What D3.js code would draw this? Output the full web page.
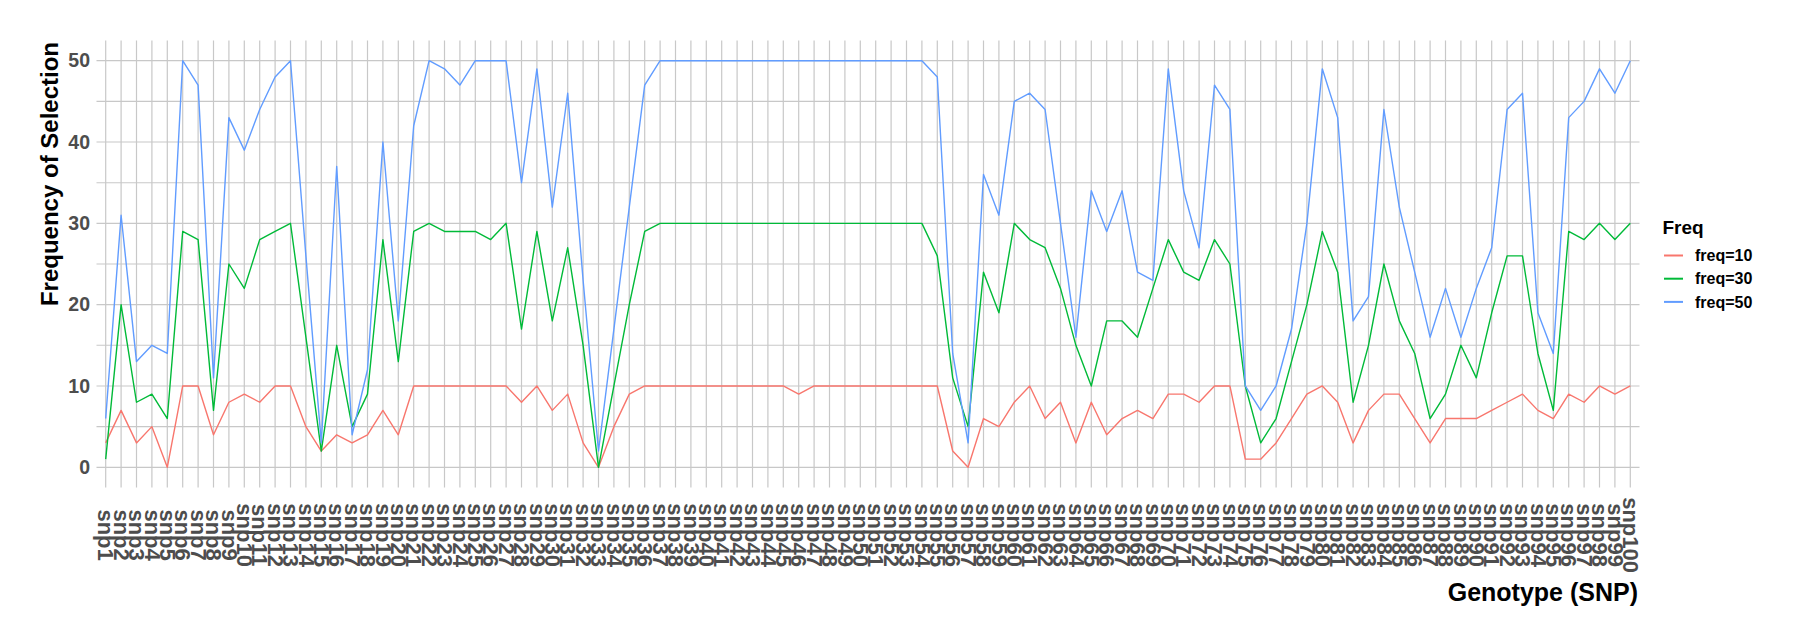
<!DOCTYPE html>
<html>
<head>
<meta charset="utf-8">
<script src="https://cdn.jsdelivr.net/npm/d3@7"></script>
<style>
  html, body { margin: 0; padding: 0; background: #fff; }
  svg { display: block; font-family: "Liberation Sans", Arial, sans-serif; }
</style>
</head>
<body>
<svg id="chart" width="1800" height="640"></svg>
<script>
// ---- data ----
const snps = Array.from({length: 100}, (_, i) => "snp" + (i + 1));
const seriesNames = ["freq=10", "freq=30", "freq=50"];
const seriesColors = ["#F8766D", "#00BA38", "#619CFF"];
const yTicks = [0, 10, 20, 30, 40, 50];
const yMinor = [5, 15, 25, 35, 45];

const freq10 = [3,7,3,5,0,10,10,4,8,9, 8,10,10,5,2,4,3,4,7,4,
  10,10,10,10,10,10,10,8,10,7, 9,3,0,5,9,10,10,10,10,10,
  10,10,10,10,10,9,10,10,10,10, 10,10,10,10,10,2,0,6,5,8,
  10,6,8,3,8,4,6,7,6,9, 9,8,10,10,1,1,3,6,9,10,
  8,3,7,9,9,6,3,6,6,6, 7,8,9,7,6,9,8,10,9,10];
const freq30 = [1,20,8,9,6,29,28,7,25,22, 28,29,30,16,2,15,5,9,28,13,
  29,30,29,29,29,28,30,17,29,18, 27,15,0,10,20,29,30,30,30,30,
  30,30,30,30,30,30,30,30,30,30, 30,30,30,30,26,11,5,24,19,30,
  28,27,22,15,10,18,18,16,22,28, 24,23,28,25,10,3,6,13,20,29,
  24,8,15,25,18,14,6,9,15,11, 19,26,26,14,7,29,28,30,28,30];
const freq50 = [6,31,13,15,14,50,47,11,43,39, 44,48,50,26,3,37,4,12,40,18,
  42,50,49,47,50,50,50,35,49,32, 46,23,2,17,32,47,50,50,50,50,
  50,50,50,50,50,50,50,50,50,50, 50,50,50,50,48,14,3,36,31,45,
  46,44,30,16,34,29,34,24,23,49, 34,27,47,44,10,7,10,17,30,49,
  43,18,21,44,32,24,16,22,16,22, 27,44,46,19,14,43,45,49,46,50];
const seriesValues = [freq10, freq30, freq50];

// ---- layout ----
const svg = d3.select("#chart");
const panel = {left: 96.5, right: 1639.5, top: 40.4, bottom: 487.6};

const x = d3.scalePoint().domain(snps).range([105.7, 1630.3]);
const y = d3.scaleLinear().domain([0, 50]).range([467.3, 60.7]);

const gridColor = "#c8c8c8";

// gridlines
const grid = svg.append("g");
grid.selectAll("line.minor").data(yMinor).join("line")
  .attr("x1", panel.left).attr("x2", panel.right)
  .attr("y1", d => y(d)).attr("y2", d => y(d))
  .attr("stroke", gridColor).attr("stroke-width", 1.1);
grid.selectAll("line.major").data(yTicks).join("line")
  .attr("x1", panel.left).attr("x2", panel.right)
  .attr("y1", d => y(d)).attr("y2", d => y(d))
  .attr("stroke", gridColor).attr("stroke-width", 1.2);
grid.selectAll("line.vx").data(snps).join("line")
  .attr("x1", d => x(d)).attr("x2", d => x(d))
  .attr("y1", panel.top).attr("y2", panel.bottom)
  .attr("stroke", gridColor).attr("stroke-width", 1.2);

// lines
const line = d3.line().x((d, i) => x(snps[i])).y(d => y(d));
svg.append("g").selectAll("path").data(seriesValues).join("path")
  .attr("d", d => line(d))
  .attr("fill", "none")
  .attr("stroke", (d, i) => seriesColors[i])
  .attr("stroke-width", 1.4)
  .attr("stroke-linejoin", "round");

// y axis
const yAxis = svg.append("g").attr("transform", `translate(${panel.left},0)`)
  .call(d3.axisLeft(y).tickValues(yTicks).tickSize(0).tickPadding(6.5));
yAxis.select(".domain").remove();
yAxis.selectAll("text")
  .attr("fill", "#4d4d4d").attr("font-size", "19.5px").attr("font-weight", "bold")
  .attr("font-family", "Liberation Sans, Arial, sans-serif");

// x axis
const xAxis = svg.append("g").attr("transform", `translate(0,${panel.bottom})`)
  .call(d3.axisBottom(x).tickSize(0));
xAxis.select(".domain").remove();
xAxis.selectAll("text")
  .attr("x", 0).attr("y", 0).attr("dy", "0.35em")
  .attr("text-anchor", "middle")
  .attr("transform", "translate(0,47.5) rotate(90)")
  .attr("fill", "#4d4d4d").attr("font-size", "22px").attr("font-weight", "bold")
  .attr("font-family", "Liberation Sans, Arial, sans-serif");

// axis titles
svg.append("text")
  .attr("transform", "translate(58,42) rotate(-90)")
  .attr("text-anchor", "end")
  .attr("font-size", "24px").attr("font-weight", "bold").attr("fill", "#000")
  .text("Frequency of Selection");

svg.append("text")
  .attr("x", 1638).attr("y", 601)
  .attr("text-anchor", "end")
  .attr("font-size", "25px").attr("font-weight", "bold").attr("fill", "#000")
  .text("Genotype (SNP)");

// legend
const legend = svg.append("g");
legend.append("text").attr("x", 1662.5).attr("y", 234)
  .attr("font-size", "19px").attr("font-weight", "bold").attr("fill", "#000")
  .text("Freq");
const items = legend.selectAll("g.item").data(seriesNames).join("g")
  .attr("transform", (d, i) => `translate(0,${255.5 + i * 23.2})`);
items.append("line").attr("x1", 1664).attr("x2", 1683).attr("y1", 0).attr("y2", 0)
  .attr("stroke", (d, i) => seriesColors[i]).attr("stroke-width", 2);
items.append("text").attr("x", 1695).attr("y", 0).attr("dy", "0.35em")
  .attr("font-size", "16px").attr("font-weight", "bold").attr("fill", "#000")
  .text(d => d);
</script>
</body>
</html>
